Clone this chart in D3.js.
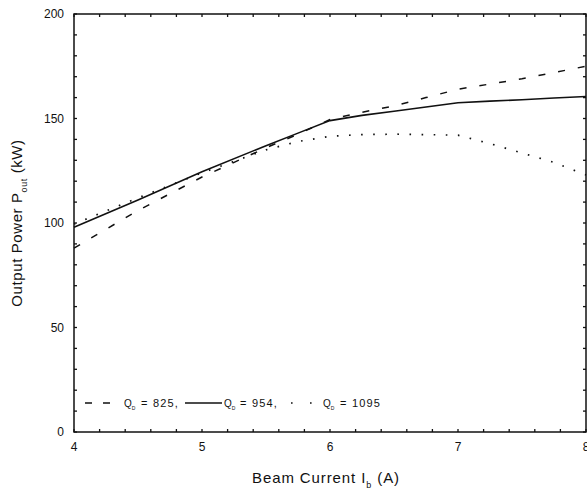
<!DOCTYPE html>
<html>
<head>
<meta charset="utf-8">
<script src="https://cdn.jsdelivr.net/npm/d3@7"></script>
<style>
  body { margin: 0; background: #fff; }
  svg { display: block; font-family: 'Liberation Sans', Arial, sans-serif; }
</style>
</head>
<body>
<svg id="chart" width="587" height="494"></svg>
<script>
// beam current (A)
const current = [4, 4.5, 5, 5.5, 5.75, 6, 6.25, 6.5, 6.75, 7, 7.25, 7.5, 7.75, 8];
// output power (kW) for each diffraction Q
const q825 = [88, 106, 122, 136, 142.5, 149.5, 153, 156, 160, 164, 166.5, 169, 172, 175];
const q954 = [98, 111, 124.5, 137, 143, 149, 151.5, 153.5, 155.5, 157.5, 158.3, 159, 159.8, 160.5];
const q1095 = [99.5, 112, 124, 135, 139, 141.5, 142.3, 142.5, 142.3, 142, 138, 133.5, 129, 123];
const seriesNames = ['825', '954', '1095'];
const xTicks = [4, 5, 6, 7, 8];
const yTicks = [0, 50, 100, 150, 200];

const svg = d3.select('#chart');
const margin = { top: 14, right: 1, bottom: 62, left: 74 };
const width = 587;
const height = 494;

const x = d3.scaleLinear().domain([4, 8]).range([margin.left, width - margin.right]);
const y = d3.scaleLinear().domain([0, 200]).range([height - margin.bottom, margin.top]);

const ink = '#111';

// frame
svg.append('rect')
  .attr('x', x(4)).attr('y', y(200))
  .attr('width', x(8) - x(4)).attr('height', y(0) - y(200))
  .attr('fill', 'none').attr('stroke', ink).attr('stroke-width', 1.5);

// inward ticks on all four sides
const xMinor = d3.range(4, 8.001, 0.2);
const yMinor = d3.range(0, 200.001, 10);

svg.append('g').selectAll('line').data(xMinor).enter().append('line')
  .attr('x1', d => x(d)).attr('x2', d => x(d))
  .attr('y1', y(0)).attr('y2', y(0) - 3)
  .attr('stroke', ink).attr('stroke-width', 1.3);
svg.append('g').selectAll('line').data(xMinor).enter().append('line')
  .attr('x1', d => x(d)).attr('x2', d => x(d))
  .attr('y1', y(200)).attr('y2', y(200) + 3)
  .attr('stroke', ink).attr('stroke-width', 1.3);
svg.append('g').selectAll('line').data(yMinor).enter().append('line')
  .attr('x1', x(4)).attr('x2', x(4) + 3)
  .attr('y1', d => y(d)).attr('y2', d => y(d))
  .attr('stroke', ink).attr('stroke-width', 1.3);
svg.append('g').selectAll('line').data(yMinor).enter().append('line')
  .attr('x1', x(8)).attr('x2', x(8) - 3)
  .attr('y1', d => y(d)).attr('y2', d => y(d))
  .attr('stroke', ink).attr('stroke-width', 1.3);

// tick labels
svg.append('g').selectAll('text').data(xTicks).enter().append('text')
  .attr('x', d => x(d)).attr('y', y(0) + 19)
  .attr('text-anchor', 'middle')
  .attr('font-size', 12).attr('fill', ink)
  .text(d => d);

svg.append('g').selectAll('text').data(yTicks).enter().append('text')
  .attr('x', x(4) - 10).attr('y', d => y(d) + 4)
  .attr('text-anchor', 'end')
  .attr('font-size', 12).attr('fill', ink)
  .text(d => d);

// axis titles
const xTitle = svg.append('text')
  .attr('x', 326).attr('y', 483)
  .attr('text-anchor', 'middle')
  .attr('font-size', 15).attr('letter-spacing', 0.9).attr('fill', ink);
xTitle.append('tspan').text('Beam Current I');
xTitle.append('tspan').attr('font-size', 9).attr('dy', 5).text('b');
xTitle.append('tspan').attr('dy', -5).text(' (A)');

const yTitle = svg.append('text')
  .attr('transform', `translate(22, ${(y(0) + y(200)) / 2}) rotate(-90)`)
  .attr('text-anchor', 'middle')
  .attr('font-size', 15).attr('letter-spacing', 0.6).attr('fill', ink);
yTitle.append('tspan').text('Output Power P');
yTitle.append('tspan').attr('font-size', 9).attr('dy', 5).text('out');
yTitle.append('tspan').attr('dy', -5).text(' (kW)');

// curves
const line = d3.line()
  .x((d, i) => x(current[i]))
  .y(d => y(d));

const styles = [
  { data: q825, dash: '7,13', width: 1.5 },
  { data: q954, dash: null, width: 1.6 },
  { data: q1095, dash: '1.6,10.5', width: 1.7 },
];

svg.append('g').selectAll('path').data(styles).enter().append('path')
  .attr('d', d => line(d.data))
  .attr('fill', 'none')
  .attr('stroke', ink)
  .attr('stroke-width', d => d.width)
  .attr('stroke-dasharray', d => d.dash);

// legend
const legend = svg.append('g').attr('font-size', 11).attr('fill', ink);
const legY = 403;

legend.append('line')
  .attr('x1', 85).attr('x2', 111).attr('y1', legY).attr('y2', legY)
  .attr('stroke', ink).attr('stroke-width', 1.5).attr('stroke-dasharray', '7,11');
legend.append('line')
  .attr('x1', 185).attr('x2', 222).attr('y1', legY).attr('y2', legY)
  .attr('stroke', ink).attr('stroke-width', 1.5);
legend.append('line')
  .attr('x1', 291).attr('x2', 312).attr('y1', legY).attr('y2', legY)
  .attr('stroke', ink).attr('stroke-width', 1.7).attr('stroke-dasharray', '1.6,17.4');

const legQ = [124, 224, 323];
const legVal = [141, 240, 340];
seriesNames.forEach((name, i) => {
  const q = legend.append('text').attr('x', legQ[i]).attr('y', legY + 4);
  q.append('tspan').attr('font-size', 10).text('Q');
  q.append('tspan').attr('font-size', 5).attr('dy', 3).text('D');
  legend.append('text')
    .attr('x', legVal[i]).attr('y', legY + 4)
    .attr('letter-spacing', 1.2)
    .text(`= ${name}${i < 2 ? ',' : ''}`);
});
</script>
</body>
</html>
